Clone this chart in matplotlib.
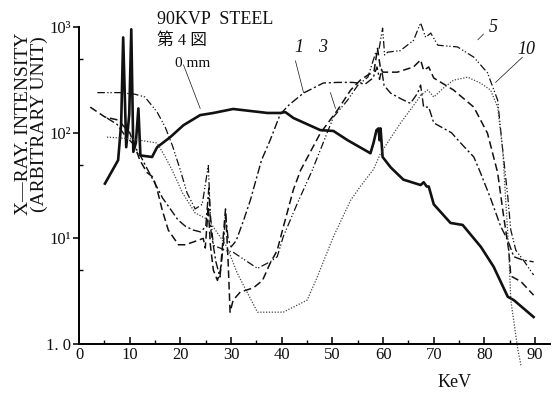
import matplotlib.pyplot as plt
import numpy as np
from matplotlib.ticker import FixedLocator, FixedFormatter

plt.rcParams['font.family'] = ['Liberation Serif', 'Noto Sans CJK JP']

# ---- data (keV, arbitrary intensity) ----
kev_0mm = [5.1, 7.7, 8.3, 8.7, 9.3, 9.9, 10.3, 10.7, 11.2, 11.7, 12.1, 14.4, 15.4, 18.0,
           20.6, 23.9, 26.5, 30.4, 37.2, 39.7, 40.7, 42.3, 47.6, 50.2, 53.0, 57.5, 58.1,
           58.7, 59.1, 59.3, 59.5, 59.9, 61.5, 64.0, 67.4, 68.0, 68.6, 69.0, 70.0, 73.3,
           75.7, 79.3, 81.8, 84.6, 85.8, 89.7]
int_0mm = [33, 55, 120, 800, 73, 150, 955, 66, 80, 170, 61, 59, 73, 91,
           118, 147, 154, 168, 154, 154, 157, 138, 106, 104, 85, 64, 80,
           106, 110, 85, 110, 59, 47, 36, 32, 34, 31, 31, 21, 14,
           13.4, 8.3, 5.4, 2.8, 2.6, 1.8]

kev_1mm = [5.5, 7.5, 9.0, 10.5, 12.0, 13.5, 15.0, 16.5, 18.0, 19.5, 21.0, 22.5, 24.0, 25.0,
           25.6, 26.0, 27.0, 27.8, 28.5, 28.9, 29.4, 30.0, 31.0, 32.5, 33.8, 36.0, 37.7,
           39.7, 41.5, 44.3, 48.2, 51.0, 54.0, 56.5, 58.0, 58.8, 59.3, 59.7, 60.2, 61.5,
           63.5, 65.4, 66.8, 67.4, 68.0, 69.0, 70.0, 73.5, 75.3, 77.9, 79.2, 81.2, 83.2,
           84.6, 85.8, 87.7, 89.7]
int_1mm = [138, 120, 95, 80, 62, 45, 33, 24, 19, 15, 13, 12, 11.5, 13,
           30, 12, 6, 4.3, 9, 17, 10, 8.3, 9.5, 15, 23, 55, 85,
           150, 185, 238, 296, 300, 300, 290, 330, 420, 320, 400, 280, 237,
           210, 190, 237, 283, 175, 175, 124, 100, 80, 59, 42, 24, 13,
           9.6, 6.7, 6.2, 6.0]

kev_3mm = [2.2, 5.1, 7.7, 10.0, 12.0, 13.4, 14.6, 15.4, 16.4, 17.6, 19.6, 21.0, 23.5, 24.5,
           24.9, 25.5, 25.9, 26.5, 27.3, 27.9, 28.9, 29.4, 29.8, 30.4, 31.8, 34.4, 36.2,
           37.7, 39.1, 40.3, 42.3, 43.7, 47.6, 51.0, 53.6, 55.5, 56.9, 58.2, 58.9, 59.5,
           60.0, 62.8, 66.0, 67.4, 68.0, 69.0, 70.0, 73.9, 77.9, 80.6, 82.6, 83.8, 84.8,
           85.2, 87.2, 89.7]
int_3mm = [175, 141, 132, 100, 55, 42, 38, 29, 18.6, 12, 8.7, 8.7, 9.6, 10,
           8.1, 20, 8.7, 5, 4, 5, 19, 6.2, 2.0, 2.6, 3.1, 3.4, 4.0,
           5.8, 7.7, 12.8, 29, 44, 99, 164, 254, 315, 350, 380, 630, 400,
           375, 375, 420, 490, 390, 420, 330, 254, 175, 99, 42, 16, 7.7,
           4.4, 3.9, 2.9]

kev_5mm = [3.6, 8.0, 11.0, 13.0, 15.4, 17.0, 18.4, 20.0, 21.3, 22.9, 24.3, 25.5, 25.9, 26.5,
           28.9, 30.4, 32.8, 35.2, 37.7, 39.1, 40.3, 43.1, 46.0, 50.2, 53.0, 55.0, 57.0,
           58.5, 59.2, 59.9, 60.3, 60.9, 63.4, 66.0, 67.4, 68.4, 69.4, 70.8, 74.7, 77.9,
           80.6, 82.6, 83.6, 84.6, 85.2, 86.2, 87.7, 89.7]
int_5mm = [240, 240, 232, 218, 157, 113, 76, 44, 27, 19, 21, 49, 17, 8.6,
           7.7, 7.4, 6.2, 5.2, 6.0, 6.7, 10.4, 21.6, 44, 141, 204, 282, 337,
           567, 620, 980, 545, 580, 600, 750, 1100, 800, 880, 675, 650, 520,
           370, 204, 69, 25, 12, 7.7, 6.2, 4.5]

kev_10mm = [5.5, 10.0, 15.4, 17.0, 18.4, 20.4, 22.9, 25.5, 29.2, 31.2, 35.2, 40.3, 45.0, 47.0,
            50.2, 53.6, 55.5, 58.1, 59.5, 63.4, 66.8, 67.4, 68.8, 70.0, 71.9, 73.9, 76.7,
            79.2, 81.2, 82.6, 83.6, 84.2, 84.8, 85.2, 86.6, 87.2]
int_10mm = [91, 88, 80, 59, 44, 27, 17.4, 15, 8.3, 4.7, 2.0, 2.0, 2.6, 4.3,
            10.4, 23, 31, 45, 64, 123, 204, 227, 254, 218, 265, 315, 336,
            296, 254, 175, 69, 23, 7.7, 2.6, 0.88, 0.63]

x_ticks = [0, 10, 20, 30, 40, 50, 60, 70, 80, 90]
y_ticks = [1, 10, 100, 1000]
y_tick_labels = ['1. 0', '10\u00b9', '10\u00b2', '10\u00b3']

fig = plt.figure(figsize=(5.57, 3.94), dpi=100)
ax = fig.add_axes([0.142, 0.127, 0.846, 0.804])

ink = '#111111'
ax.plot(kev_0mm, int_0mm, color=ink, lw=1.9, clip_on=False)
ax.plot(kev_1mm, int_1mm, color=ink, lw=1.0, ls=(0, (6, 2, 1.5, 2)), clip_on=False)
ax.plot(kev_3mm, int_3mm, color=ink, lw=1.1, ls=(0, (5, 2.5)), clip_on=False)
ax.plot(kev_5mm, int_5mm, color=ink, lw=0.9, ls=(0, (6, 2, 1, 1.5, 1, 2)), clip_on=False)
ax.plot(kev_10mm, int_10mm, color='#444444', lw=0.9, ls=(0, (1, 1.3)), clip_on=False)

ax.set_yscale('log')
ax.set_xlim(0, 93)
ax.set_ylim(1, 1000)

for s in ['top', 'right']:
    ax.spines[s].set_visible(False)
ax.spines['left'].set_linewidth(1.4)
ax.spines['bottom'].set_linewidth(1.4)

ax.xaxis.set_major_locator(FixedLocator(x_ticks))
ax.xaxis.set_minor_locator(FixedLocator([5, 15, 25, 35, 45, 55, 65, 75, 85]))
ax.yaxis.set_major_locator(FixedLocator(y_ticks))
ax.yaxis.set_major_formatter(FixedFormatter(y_tick_labels))
ax.yaxis.set_minor_locator(FixedLocator([5, 50, 500]))
ax.yaxis.set_minor_formatter(FixedFormatter(['', '', '']))
ax.tick_params(axis='x', which='major', direction='in', length=5, width=1.2,
               labelsize=12, pad=2, colors=ink)
ax.tick_params(axis='x', which='minor', direction='in', length=3, width=1.0)
ax.tick_params(axis='y', which='major', direction='out', length=4, width=1.2,
               labelsize=12, pad=2, colors=ink)
ax.tick_params(axis='y', which='minor', direction='in', length=3, width=1.0)

# two-line rotated axis title, placed by hand like the scan
fig.text(0.057, 0.685, 'X\u2014RAY. INTENSITY\n(ARBITRARY UNIT)', fontsize=14,
         rotation=90, ha='center', va='center', linespacing=0.9, color=ink)

fig.text(0.785, 0.018, 'KeV', fontsize=13, color=ink)
fig.text(0.282, 0.94, '90KVP  STEEL', fontsize=13, color=ink)
fig.text(0.282, 0.885, '第 4 図', fontsize=12, color=ink)
fig.text(0.314, 0.83, '0 mm', fontsize=11, color=ink)

# curve labels with leader lines
ax.text(42.5, 580, '1', fontsize=13, style='italic', color=ink)
ax.text(47.2, 580, '3', fontsize=13, style='italic', color=ink)
ax.text(80.8, 900, '5', fontsize=13, style='italic', color=ink)
ax.text(86.5, 560, '10', fontsize=13, style='italic', color=ink)
ax.plot([20.6, 23.9], [440, 170], color=ink, lw=0.5, clip_on=False)
ax.plot([42.7, 44.3], [480, 240], color=ink, lw=0.5, clip_on=False)
ax.plot([49.6, 50.6], [240, 170], color=ink, lw=0.5, clip_on=False)
ax.plot([79.8, 78.7], [860, 760], color=ink, lw=0.5, clip_on=False)
ax.plot([87.5, 82.2], [520, 300], color=ink, lw=0.5, clip_on=False)

plt.savefig('out.png', dpi=100)
